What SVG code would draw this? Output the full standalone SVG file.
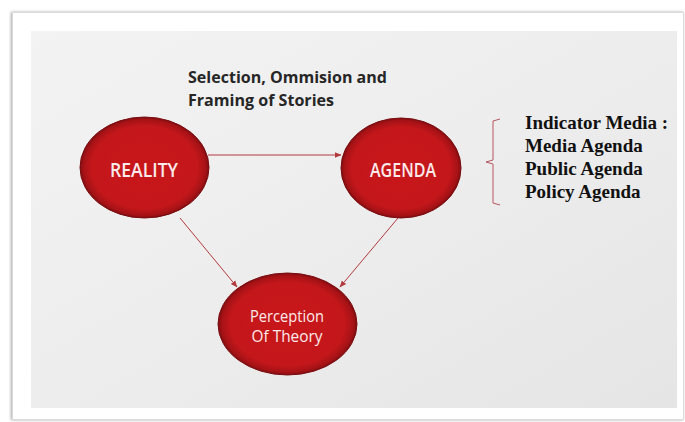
<svg xmlns="http://www.w3.org/2000/svg" width="685" height="422" viewBox="0 0 685 422">
  <defs>
    <linearGradient id="panel" x1="0" y1="0" x2="1" y2="1">
      <stop offset="0" stop-color="#f3f3f3"/>
      <stop offset="0.5" stop-color="#ededed"/>
      <stop offset="1" stop-color="#e5e5e5"/>
    </linearGradient>
    <radialGradient id="ball" cx="0.5" cy="0.5" r="0.5">
      <stop offset="0" stop-color="#c8161a"/>
      <stop offset="0.82" stop-color="#c4171b"/>
      <stop offset="0.95" stop-color="#a51216"/>
      <stop offset="1" stop-color="#7e0d10"/>
    </radialGradient>
    <marker id="arrow" viewBox="0 0 10 10" refX="9" refY="5" markerWidth="7" markerHeight="7" markerUnits="userSpaceOnUse" orient="auto">
      <path d="M0,1 L10,5 L0,9 z" fill="#b23a3e"/>
    </marker>
    <filter id="shadow" x="-5%" y="-5%" width="110%" height="110%">
      <feGaussianBlur in="SourceAlpha" stdDeviation="1.5"/>
      <feOffset dx="-1" dy="0"/>
      <feComponentTransfer><feFuncA type="linear" slope="0.35"/></feComponentTransfer>
      <feMerge><feMergeNode/><feMergeNode in="SourceGraphic"/></feMerge>
    </filter>
  </defs>
  <style>
    .node ellipse { fill: url(#ball); stroke: #7a0c0f; stroke-width: 1; }
    .nlabel { font-family: "Open Sans", "Liberation Sans", sans-serif; font-weight: 600; fill: #fbeaea; text-anchor: middle; }
    .plabel { font-weight: normal; }
    .title { font-family: "Open Sans", "Liberation Sans", sans-serif; font-weight: bold; font-size: 15.5px; fill: #262626; }
    .ind { font-family: "Liberation Serif", "Times New Roman", serif; font-weight: bold; font-size: 19px; fill: #111111; }
    .conn line { stroke: #b23a3e; stroke-width: 1; fill: none; }
  </style>

  <rect x="0" y="0" width="685" height="422" fill="#ffffff"/>
  <rect x="12.5" y="12.5" width="671" height="407" fill="#ffffff" stroke="#dcdcdc" stroke-width="1" filter="url(#shadow)"/>
  <rect x="31" y="31" width="646" height="377" fill="url(#panel)"/>

  <g id="title">
    <text class="title" x="188" y="83" textLength="199" lengthAdjust="spacingAndGlyphs">Selection, Ommision and</text>
    <text class="title" x="188" y="106" textLength="146" lengthAdjust="spacingAndGlyphs">Framing of Stories</text>
  </g>

  <g id="connectors" class="conn">
    <line x1="208" y1="155" x2="341" y2="155" marker-end="url(#arrow)"/>
    <line x1="180" y1="218" x2="237" y2="287" marker-end="url(#arrow)"/>
    <line x1="398" y1="218" x2="340" y2="287" marker-end="url(#arrow)"/>
  </g>

  <g id="reality" class="node">
    <ellipse cx="144.5" cy="167.5" rx="64.5" ry="50.5"/>
    <text class="nlabel" x="144" y="177" font-size="19" textLength="68" lengthAdjust="spacingAndGlyphs">REALITY</text>
  </g>

  <g id="agenda" class="node">
    <ellipse cx="401" cy="168" rx="60" ry="50"/>
    <text class="nlabel" x="403" y="177" font-size="19" textLength="66" lengthAdjust="spacingAndGlyphs">AGENDA</text>
  </g>

  <g id="perception" class="node">
    <ellipse cx="287.5" cy="324" rx="69.5" ry="51"/>
    <text class="nlabel plabel" x="287" y="322" font-size="16" textLength="74" lengthAdjust="spacingAndGlyphs">Perception</text>
    <text class="nlabel plabel" x="287" y="342" font-size="16" textLength="71" lengthAdjust="spacingAndGlyphs">Of Theory</text>
  </g>

  <g id="indicators">
    <path d="M500,119 L493,121 L493,160 L486,162 L493,164 L493,203 L500,205" fill="none" stroke="#b85560" stroke-width="1"/>
    <text class="ind" x="525" y="129">Indicator Media :</text>
    <text class="ind" x="525" y="152">Media Agenda</text>
    <text class="ind" x="525" y="175">Public Agenda</text>
    <text class="ind" x="525" y="198">Policy Agenda</text>
  </g>
</svg>
